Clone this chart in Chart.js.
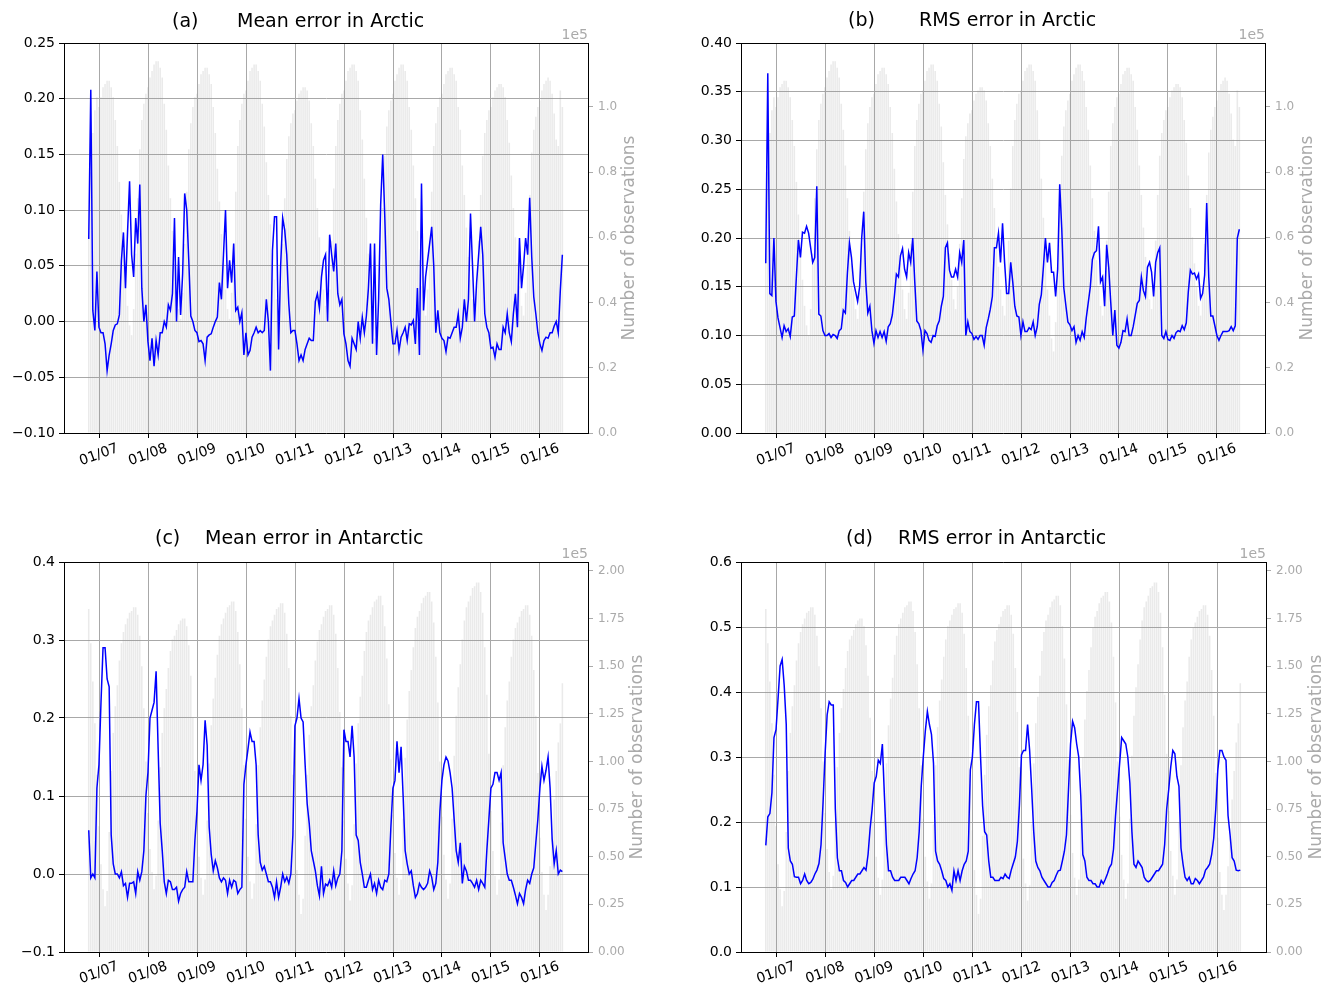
<!DOCTYPE html>
<html>
<head>
<meta charset="utf-8">
<script src="https://cdn.jsdelivr.net/npm/chart.js@4.4.1/dist/chart.umd.min.js"></script>
<style>
  html, body { margin: 0; padding: 0; background: #fff; }
  #wrap { position: relative; width: 1325px; height: 991px; }
  canvas { position: absolute; }
</style>
</head>
<body>
<div id="wrap">
  <canvas id="chartA" width="662" height="495" style="left:0;top:0"></canvas>
  <canvas id="chartB" width="663" height="495" style="left:662px;top:0"></canvas>
  <canvas id="chartC" width="662" height="496" style="left:0;top:495px"></canvas>
  <canvas id="chartD" width="663" height="496" style="left:662px;top:495px"></canvas>
</div>
<script>
// half-monthly samples, first one mid October 2006
const startYear = 2006.79;
const stepYear = 1 / 24;

const yearTicks = [2007, 2008, 2009, 2010, 2011, 2012, 2013, 2014, 2015, 2016];
const yearLabels = ['01/07', '01/08', '01/09', '01/10', '01/11', '01/12', '01/13', '01/14', '01/15', '01/16'];

const arcticMean = [
  0.074, 0.208, 0.01, -0.008, 0.045,
  -0.005, -0.01, -0.01, -0.02, -0.044, -0.03, -0.02, -0.008, -0.003, -0.002, 0.006, 0.055, 0.08, 0.03, 0.08, 0.126, 0.06, 0.04, 0.093, 0.07, 0.123, 0.03, 0.0, 0.015,
  -0.018, -0.035, -0.015, -0.04, -0.017, -0.03, -0.01, -0.01, 0.0, -0.005, 0.015, 0.01, 0.025, 0.093, 0.0, 0.058, 0.006, 0.043, 0.115, 0.1, 0.055, 0.005, 0.0, -0.008,
  -0.01, -0.018, -0.017, -0.02, -0.035, -0.014, -0.012, -0.011, -0.005, 0.0, 0.004, 0.035, 0.02, 0.06, 0.1, 0.03, 0.055, 0.035, 0.07, 0.01, 0.013, 0.0, 0.008, -0.03,
  -0.01, -0.03, -0.026, -0.014, -0.01, -0.005, -0.01, -0.008, -0.01, -0.008, 0.02, 0.0, -0.044, 0.064, 0.094, 0.094, -0.025, 0.05, 0.093, 0.082, 0.06, 0.016, -0.01, -0.008,
  -0.008, -0.02, -0.035, -0.03, -0.035, -0.025, -0.02, -0.015, -0.017, -0.017, 0.018, 0.025, 0.012, 0.04, 0.055, 0.06, 0.0, 0.078, 0.06, 0.045, 0.07, 0.025, 0.015, 0.02,
  -0.011, -0.02, -0.035, -0.04, -0.015, -0.02, -0.025, 0.0, -0.015, 0.004, -0.01, 0.005, 0.03, 0.07, -0.02, 0.07, -0.03, 0.02, 0.105, 0.15, 0.095, 0.03, 0.02, 0.0,
  -0.02, -0.02, -0.008, -0.026, -0.014, -0.01, -0.005, -0.017, -0.002, -0.003, 0.001, -0.02, 0.03, -0.03, 0.124, 0.01, 0.04, 0.055, 0.07, 0.085, 0.05, -0.01, 0.01, -0.01,
  -0.015, -0.017, -0.027, -0.014, -0.015, -0.01, -0.005, -0.005, 0.007, -0.015, -0.005, 0.02, 0.0, 0.02, 0.097, 0.05, 0.0, 0.035, 0.06, 0.085, 0.06, 0.007, -0.005, -0.01,
  -0.024, -0.023, -0.032, -0.02, -0.025, -0.025, -0.005, -0.01, 0.007, -0.01, -0.018, 0.007, 0.025, -0.005, 0.075, 0.03, 0.05, 0.075, 0.06, 0.111, 0.058, 0.022, 0.007, -0.01,
  -0.02, -0.026, -0.017, -0.014, -0.015, -0.01, -0.01, -0.004, 0.0, -0.01, 0.028, 0.06
];

const arcticRms = [
  0.174, 0.369, 0.143, 0.141, 0.2,
  0.135, 0.118, 0.108, 0.098, 0.11, 0.104, 0.107, 0.099, 0.119, 0.12, 0.16, 0.198, 0.18, 0.206, 0.205, 0.212, 0.205, 0.19, 0.175, 0.18, 0.253, 0.122, 0.12, 0.105,
  0.1, 0.1, 0.102, 0.098, 0.101, 0.1, 0.097, 0.105, 0.107, 0.126, 0.123, 0.164, 0.195, 0.18, 0.155, 0.145, 0.135, 0.15, 0.2, 0.227, 0.155, 0.123, 0.13, 0.105,
  0.092, 0.105, 0.098, 0.104, 0.098, 0.104, 0.094, 0.109, 0.112, 0.121, 0.14, 0.163, 0.16, 0.182, 0.189, 0.168, 0.16, 0.185, 0.175, 0.2, 0.155, 0.115, 0.112, 0.105,
  0.085, 0.105, 0.102, 0.095, 0.093, 0.1, 0.099, 0.11, 0.115, 0.13, 0.14, 0.19, 0.195, 0.167, 0.16, 0.16, 0.168, 0.16, 0.185, 0.175, 0.198, 0.1, 0.114, 0.104,
  0.102, 0.096, 0.099, 0.096, 0.1, 0.1, 0.09, 0.108, 0.117, 0.127, 0.14, 0.19, 0.19, 0.205, 0.175, 0.215, 0.175, 0.143, 0.143, 0.175, 0.155, 0.13, 0.12, 0.119,
  0.1, 0.114, 0.104, 0.104, 0.108, 0.106, 0.114, 0.1, 0.109, 0.132, 0.142, 0.17, 0.2, 0.175, 0.195, 0.165, 0.165, 0.14, 0.168, 0.255, 0.21, 0.149, 0.131, 0.114,
  0.111, 0.105, 0.109, 0.093, 0.1, 0.095, 0.104, 0.098, 0.118, 0.134, 0.15, 0.178, 0.185, 0.187, 0.212, 0.155, 0.16, 0.13, 0.193, 0.17, 0.134, 0.1, 0.126, 0.09,
  0.087, 0.093, 0.105, 0.104, 0.117, 0.1, 0.1, 0.109, 0.121, 0.133, 0.136, 0.16, 0.146, 0.14, 0.17, 0.175, 0.165, 0.14, 0.175, 0.185, 0.19, 0.1, 0.097, 0.104,
  0.096, 0.095, 0.1, 0.097, 0.103, 0.105, 0.104, 0.11, 0.106, 0.113, 0.145, 0.167, 0.163, 0.164, 0.158, 0.163, 0.138, 0.143, 0.162, 0.236, 0.16, 0.12, 0.12, 0.11,
  0.1, 0.095, 0.1, 0.104, 0.104, 0.104, 0.105, 0.109, 0.105, 0.11, 0.2, 0.209
];

const antarcticMean = [
  0.056, -0.005, 0.0, -0.005, 0.11,
  0.14, 0.22, 0.29, 0.29, 0.25, 0.24, 0.05, 0.013, 0.0, 0.0, -0.005, 0.003, -0.015, -0.012, -0.03, -0.012, -0.012, -0.01, -0.025, 0.003, -0.008, 0.003, 0.03, 0.1,
  0.13, 0.2, 0.21, 0.22, 0.26, 0.16, 0.065, 0.03, -0.01, -0.025, -0.008, -0.01, -0.02, -0.02, -0.017, -0.035, -0.025, -0.02, -0.017, 0.003, -0.01, -0.01, -0.01, 0.043,
  0.08, 0.14, 0.12, 0.14, 0.197, 0.165, 0.06, 0.025, 0.004, 0.017, 0.008, -0.005, -0.01, -0.005, -0.008, -0.025, -0.008, -0.017, -0.008, -0.01, -0.025, -0.02, -0.017, 0.115,
  0.14, 0.16, 0.182, 0.17, 0.17, 0.14, 0.05, 0.015, 0.005, 0.01, 0.0, -0.01, -0.01, -0.017, -0.03, -0.01, -0.03, -0.017, 0.0, -0.01, -0.004, -0.012, 0.0, 0.05,
  0.19, 0.2, 0.225, 0.2, 0.195, 0.14, 0.09, 0.065, 0.03, 0.017, 0.004, -0.015, -0.028, 0.01, -0.025, -0.013, -0.015, -0.008, -0.017, 0.004, -0.015, -0.005, 0.0, 0.03,
  0.185, 0.17, 0.17, 0.15, 0.19, 0.15, 0.05, 0.043, 0.015, 0.0, -0.017, -0.017, -0.008, 0.0, -0.02, -0.012, -0.025, -0.008, -0.017, -0.02, -0.008, -0.01, 0.0, 0.06,
  0.11, 0.12, 0.17, 0.13, 0.163, 0.1, 0.03, 0.013, 0.0, 0.004, -0.015, -0.03, -0.025, -0.012, -0.017, -0.02, -0.017, -0.012, 0.004, -0.004, -0.02, -0.012, 0.015, 0.08,
  0.12, 0.14, 0.15, 0.145, 0.13, 0.11, 0.07, 0.03, 0.015, 0.04, -0.012, 0.01, 0.004, -0.008, -0.008, -0.012, -0.017, -0.008, -0.02, -0.008, -0.012, -0.017, 0.03, 0.07,
  0.11, 0.115, 0.13, 0.13, 0.12, 0.13, 0.04, 0.02, 0.0, -0.008, -0.008, -0.017, -0.027, -0.038, -0.025, -0.03, -0.038, -0.02, -0.008, -0.012, 0.0, 0.008, 0.04, 0.07,
  0.11, 0.138, 0.12, 0.133, 0.15, 0.11, 0.045, 0.013, 0.03, 0.0, 0.005, 0.003
];

const antarcticRms = [
  0.164, 0.208, 0.213, 0.245, 0.33,
  0.342, 0.39, 0.44, 0.45, 0.41, 0.35, 0.16, 0.14, 0.135, 0.116, 0.115, 0.115, 0.105, 0.11, 0.12, 0.11, 0.105, 0.107, 0.112, 0.12, 0.126, 0.136, 0.165, 0.23,
  0.305, 0.365, 0.385, 0.38, 0.38, 0.22, 0.145, 0.125, 0.125, 0.11, 0.107, 0.1, 0.105, 0.11, 0.11, 0.115, 0.12, 0.12, 0.125, 0.13, 0.126, 0.15, 0.19, 0.22,
  0.26, 0.27, 0.295, 0.29, 0.32, 0.24, 0.165, 0.125, 0.125, 0.115, 0.11, 0.11, 0.11, 0.115, 0.115, 0.115, 0.11, 0.105, 0.113, 0.12, 0.125, 0.145, 0.185, 0.255,
  0.3, 0.34, 0.37, 0.35, 0.335, 0.29, 0.155, 0.14, 0.135, 0.125, 0.113, 0.11, 0.1, 0.105, 0.095, 0.125, 0.11, 0.125, 0.11, 0.125, 0.135, 0.14, 0.155, 0.28,
  0.3, 0.35, 0.385, 0.385, 0.3, 0.225, 0.185, 0.18, 0.14, 0.115, 0.115, 0.11, 0.11, 0.11, 0.115, 0.113, 0.12, 0.115, 0.113, 0.126, 0.136, 0.146, 0.17, 0.226,
  0.303, 0.31, 0.31, 0.35, 0.31, 0.25, 0.185, 0.14, 0.13, 0.125, 0.115, 0.11, 0.105, 0.1, 0.1, 0.107, 0.11, 0.118, 0.125, 0.126, 0.14, 0.155, 0.18, 0.25,
  0.32, 0.355, 0.345, 0.32, 0.3, 0.24, 0.15, 0.14, 0.115, 0.11, 0.11, 0.105, 0.105, 0.1, 0.1, 0.11, 0.105, 0.112, 0.12, 0.13, 0.135, 0.158, 0.21, 0.25,
  0.29, 0.33, 0.325, 0.32, 0.3, 0.26, 0.185, 0.135, 0.13, 0.14, 0.135, 0.13, 0.115, 0.11, 0.108, 0.11, 0.115, 0.12, 0.125, 0.125, 0.13, 0.135, 0.165, 0.22,
  0.25, 0.285, 0.31, 0.305, 0.27, 0.255, 0.16, 0.135, 0.115, 0.11, 0.115, 0.105, 0.105, 0.113, 0.11, 0.105, 0.11, 0.115, 0.126, 0.13, 0.135, 0.15, 0.175, 0.22,
  0.28, 0.31, 0.31, 0.3, 0.295, 0.21, 0.18, 0.145, 0.14, 0.126, 0.125, 0.126
];

// number of observations, in units of 1e5
const arcticObs = [
  0.6, 0.8, 0.92, 0.99, 1.03,
  1.0, 1.03, 1.06, 1.07, 1.08, 1.08, 1.06, 1.03, 0.96, 0.88, 0.77, 0.67, 0.57, 0.47, 0.39, 0.33, 0.3, 0.38, 0.55, 0.72, 0.87, 0.96, 1.01, 1.04,
  1.06, 1.09, 1.11, 1.13, 1.14, 1.14, 1.12, 1.09, 1.01, 0.93, 0.82, 0.72, 0.62, 0.52, 0.44, 0.38, 0.35, 0.43, 0.58, 0.74, 0.87, 0.95, 1.0, 1.03,
  1.04, 1.07, 1.1, 1.11, 1.12, 1.12, 1.1, 1.07, 1.0, 0.92, 0.81, 0.71, 0.61, 0.52, 0.44, 0.38, 0.35, 0.43, 0.58, 0.74, 0.88, 0.96, 1.01, 1.04,
  1.05, 1.08, 1.11, 1.12, 1.13, 1.13, 1.11, 1.08, 1.01, 0.94, 0.83, 0.73, 0.64, 0.55, 0.47, 0.41, 0.38, 0.45, 0.58, 0.72, 0.84, 0.91, 0.95, 0.98,
  0.99, 1.02, 1.04, 1.05, 1.06, 1.06, 1.05, 1.02, 0.95, 0.88, 0.78, 0.69, 0.6, 0.51, 0.44, 0.39, 0.36, 0.44, 0.59, 0.75, 0.88, 0.96, 1.01, 1.04,
  1.05, 1.08, 1.11, 1.12, 1.13, 1.13, 1.11, 1.08, 0.99, 0.9, 0.78, 0.66, 0.55, 0.44, 0.36, 0.29, 0.25, 0.34, 0.51, 0.69, 0.85, 0.94, 0.99, 1.02,
  1.04, 1.08, 1.1, 1.12, 1.13, 1.13, 1.11, 1.08, 1.0, 0.93, 0.82, 0.72, 0.62, 0.53, 0.45, 0.39, 0.36, 0.44, 0.59, 0.74, 0.88, 0.95, 1.0, 1.03,
  1.04, 1.07, 1.1, 1.11, 1.12, 1.12, 1.1, 1.08, 1.0, 0.93, 0.82, 0.73, 0.63, 0.54, 0.47, 0.41, 0.38, 0.45, 0.59, 0.73, 0.85, 0.92, 0.96, 0.99,
  1.0, 1.03, 1.05, 1.06, 1.07, 1.07, 1.06, 1.03, 0.96, 0.89, 0.79, 0.69, 0.6, 0.52, 0.45, 0.39, 0.36, 0.43, 0.58, 0.73, 0.86, 0.93, 0.97, 1.0,
  1.02, 1.05, 1.07, 1.08, 1.09, 1.08, 1.04, 0.98, 0.9, 0.88, 1.05, 1.0
];

const antarcticObs = [
  1.8, 1.62, 1.42, 1.2, 0.93,
  0.66, 0.46, 0.33, 0.24, 0.32, 0.63, 0.95, 1.15, 1.29, 1.4, 1.53, 1.62, 1.68, 1.72, 1.75, 1.78, 1.79, 1.81, 1.81, 1.77, 1.66, 1.5, 1.28, 1.0,
  0.73, 0.54, 0.42, 0.33, 0.4, 0.69, 0.97, 1.15, 1.28, 1.38, 1.49, 1.58, 1.64, 1.66, 1.69, 1.72, 1.74, 1.75, 1.75, 1.71, 1.61, 1.45, 1.23, 0.95,
  0.69, 0.5, 0.39, 0.3, 0.38, 0.69, 0.99, 1.19, 1.33, 1.44, 1.56, 1.66, 1.72, 1.75, 1.78, 1.81, 1.82, 1.84, 1.84, 1.79, 1.68, 1.51, 1.28, 0.98,
  0.7, 0.5, 0.37, 0.28, 0.36, 0.67, 0.98, 1.18, 1.32, 1.43, 1.55, 1.64, 1.71, 1.74, 1.77, 1.8, 1.81, 1.83, 1.83, 1.78, 1.67, 1.49, 1.24, 0.93,
  0.64, 0.43, 0.3, 0.2, 0.28, 0.61, 0.93, 1.14, 1.29, 1.4, 1.53, 1.63, 1.69, 1.72, 1.76, 1.79, 1.8, 1.82, 1.82, 1.77, 1.67, 1.49, 1.26, 0.97,
  0.69, 0.49, 0.36, 0.27, 0.35, 0.67, 0.99, 1.2, 1.34, 1.45, 1.58, 1.68, 1.74, 1.77, 1.81, 1.84, 1.85, 1.87, 1.87, 1.82, 1.71, 1.54, 1.3, 1.01,
  0.72, 0.52, 0.39, 0.3, 0.38, 0.7, 1.02, 1.22, 1.37, 1.48, 1.6, 1.7, 1.76, 1.79, 1.83, 1.86, 1.87, 1.89, 1.89, 1.84, 1.73, 1.55, 1.31, 1.0,
  0.71, 0.51, 0.38, 0.28, 0.36, 0.7, 1.03, 1.24, 1.39, 1.51, 1.64, 1.74, 1.81, 1.84, 1.87, 1.91, 1.92, 1.94, 1.94, 1.89, 1.78, 1.6, 1.35, 1.04,
  0.74, 0.53, 0.4, 0.3, 0.38, 0.68, 0.98, 1.18, 1.32, 1.42, 1.55, 1.64, 1.7, 1.73, 1.76, 1.79, 1.8, 1.82, 1.82, 1.77, 1.66, 1.48, 1.24, 0.94,
  0.6, 0.42, 0.3, 0.22, 0.3, 0.45, 0.6, 0.8, 0.95, 1.1, 1.2, 1.41
];

Chart.defaults.font.family = "'DejaVu Sans', sans-serif";

function series(values) {
  return values.map((v, i) => ({ x: startYear + i * stepYear, y: v }));
}

function fmt(v, digits) {
  if (Math.abs(v) < 1e-9) v = 0;
  return v.toFixed(digits).replace('-', '\u2212');
}

// title, x labels, "1e5", right axis title and top spine
const decor = {
  id: 'decor',
  afterDraw(chart, args, o) {
    const ctx = chart.ctx;
    const a = chart.chartArea;
    const xs = chart.scales.x;
    ctx.save();
    ctx.strokeStyle = '#000';
    ctx.lineWidth = 1;
    ctx.beginPath();
    ctx.moveTo(a.left, a.top + 0.5);
    ctx.lineTo(a.right, a.top + 0.5);
    ctx.stroke();

    ctx.fillStyle = '#000';
    ctx.font = "19px 'DejaVu Sans'";
    ctx.textBaseline = 'middle';
    ctx.textAlign = 'left';
    ctx.fillText(o.tag, o.tagX, o.titleY);
    ctx.fillText(o.title, o.titleX, o.titleY);

    ctx.font = "14px 'DejaVu Sans'";
    ctx.textAlign = 'center';
    yearTicks.forEach((yr, i) => {
      ctx.save();
      ctx.translate(xs.getPixelForValue(yr), a.bottom + o.labelDy);
      ctx.rotate(-20 * Math.PI / 180);
      ctx.fillText(yearLabels[i], 0, 0);
      ctx.restore();
    });

    ctx.fillStyle = '#aaaaaa';
    ctx.textAlign = 'right';
    ctx.textBaseline = 'bottom';
    ctx.fillText('1e5', a.right, a.top - 1);

    ctx.font = "17px 'DejaVu Sans'";
    ctx.textAlign = 'center';
    ctx.textBaseline = 'middle';
    ctx.translate(o.obsX, (a.top + a.bottom) / 2);
    ctx.rotate(-Math.PI / 2);
    ctx.fillText('Number of observations', 0, 0);
    ctx.restore();
  }
};

function makePanel(id, p) {
  const canvas = document.getElementById(id);
  const W = canvas.width, H = canvas.height;
  return new Chart(canvas, {
    type: 'line',
    data: {
      datasets: [
        {
          type: 'line', data: series(p.line), yAxisID: 'y', order: 1,
          borderColor: '#0000ff', borderWidth: 1.5, pointRadius: 0, tension: 0
        },
        {
          type: 'bar', data: series(p.obs), yAxisID: 'y2', order: 2,
          backgroundColor: 'rgba(150,150,150,0.2)', borderWidth: 0,
          barPercentage: 0.75, categoryPercentage: 1
        }
      ]
    },
    options: {
      responsive: false,
      animation: false,
      events: [],
      layout: { padding: { top: p.top, left: 0, right: 0, bottom: 0 } },
      plugins: { legend: { display: false }, tooltip: { enabled: false }, decor: p.decor },
      scales: {
        x: {
          type: 'linear', min: 2006.285, max: 2016.98, offset: false,
          afterBuildTicks: s => { s.ticks = yearTicks.map(v => ({ value: v })); },
          afterFit: s => { s.height = H - p.bottom; },
          ticks: { display: false },
          grid: { color: '#a8a8a8', tickColor: '#000', tickLength: 5, offset: false },
          border: { color: '#000' }
        },
        y: {
          position: 'left', min: p.yMin, max: p.yMax,
          afterFit: s => { s.width = p.left; },
          ticks: {
            stepSize: p.yStep, includeBounds: false, color: '#000', font: { size: 14 }, padding: 4,
            callback: v => fmt(v, p.yDigits)
          },
          grid: { color: '#a8a8a8', tickColor: '#000', tickLength: 5 },
          border: { color: '#000' }
        },
        y2: {
          position: 'right', min: 0, max: p.obsMax,
          afterFit: s => { s.width = W - p.right; },
          ticks: {
            stepSize: p.obsStep, includeBounds: false, color: '#aaaaaa', font: { size: 12 }, padding: 5,
            callback: v => fmt(v, p.obsDigits)
          },
          grid: { drawOnChartArea: false, tickColor: '#aaaaaa', tickLength: 5 },
          border: { color: '#000' }
        }
      }
    },
    plugins: [decor]
  });
}

makePanel('chartA', {
  line: arcticMean, obs: arcticObs,
  top: 43, bottom: 433, left: 64, right: 588,
  yMin: -0.10, yMax: 0.25, yStep: 0.05, yDigits: 2,
  obsMax: 1.196, obsStep: 0.2, obsDigits: 1,
  decor: { tag: '(a)', tagX: 172, title: 'Mean error in Arctic', titleX: 237, titleY: 22, labelDy: 22, obsX: 630 }
});
makePanel('chartB', {
  line: arcticRms, obs: arcticObs,
  top: 43, bottom: 433, left: 79, right: 603,
  yMin: 0, yMax: 0.40, yStep: 0.05, yDigits: 2,
  obsMax: 1.196, obsStep: 0.2, obsDigits: 1,
  decor: { tag: '(b)', tagX: 186, title: 'RMS error in Arctic', titleX: 257, titleY: 21, labelDy: 22, obsX: 646 }
});
makePanel('chartC', {
  line: antarcticMean, obs: antarcticObs,
  top: 67, bottom: 457, left: 64, right: 588,
  yMin: -0.1, yMax: 0.4, yStep: 0.1, yDigits: 1,
  obsMax: 2.047, obsStep: 0.25, obsDigits: 2,
  decor: { tag: '(c)', tagX: 155, title: 'Mean error in Antarctic', titleX: 205, titleY: 44, labelDy: 21, obsX: 638 }
});
makePanel('chartD', {
  line: antarcticRms, obs: antarcticObs,
  top: 67, bottom: 457, left: 79, right: 604,
  yMin: 0, yMax: 0.6, yStep: 0.1, yDigits: 1,
  obsMax: 2.047, obsStep: 0.25, obsDigits: 2,
  decor: { tag: '(d)', tagX: 184, title: 'RMS error in Antarctic', titleX: 236, titleY: 44, labelDy: 21, obsX: 655 }
});
</script>
</body>
</html>
